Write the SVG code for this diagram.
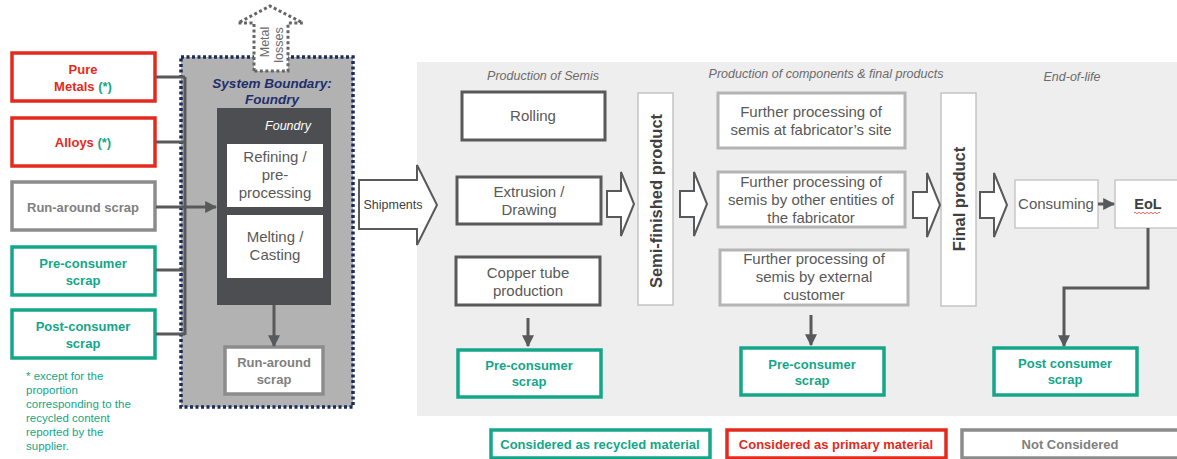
<svg xmlns="http://www.w3.org/2000/svg" width="1177" height="459" viewBox="0 0 1177 459">
<style>
text{font-family:"Liberation Sans",Arial,sans-serif}
.red{fill:#fff;stroke:#e42a1d;stroke-width:3.5}
.grn{fill:#fff;stroke:#14a689;stroke-width:3.5}
.gry{fill:#fff;stroke:#8c8c8c;stroke-width:3.5}
.drk{fill:#fff;stroke:#58595b;stroke-width:3}
.lgt{fill:#fff;stroke:#b4b4b4;stroke-width:3}
.thin{fill:#fff;stroke:#c8c8c8;stroke-width:1.5}
.tr{fill:#e42a1d;font-weight:bold;font-size:13px;text-anchor:middle}
.tg{fill:#14a689;font-weight:bold;font-size:13px;text-anchor:middle}
.tgy{fill:#808080;font-weight:bold;font-size:13px;text-anchor:middle}
.tn{fill:#595959;font-size:15px;text-anchor:middle}
.ti{fill:#6b6b6b;font-size:12.5px;font-style:italic;text-anchor:middle}
.tv{fill:#404040;font-size:16.5px;font-weight:bold;text-anchor:middle}
.ln{fill:none;stroke:#58595b;stroke-width:3}
.harrow{fill:#fff;stroke:#58595b;stroke-width:2}
</style>
<defs>
<marker id="ah" viewBox="0 0 10 10" refX="9" refY="5" markerWidth="4" markerHeight="4" orient="auto" markerUnits="strokeWidth">
<path d="M0,0 L10,5 L0,10 Z" fill="#58595b"/>
</marker>
<path id="ha" d="M0,-13 L14,-13 L14,-32 L27,0 L14,32 L14,13 L0,13 Z"/>
</defs>

<!-- background panel -->
<rect id="panel" x="417" y="62" width="760" height="354" fill="#eeeeee"/>

<!-- system boundary -->
<g id="boundary">
<rect x="181" y="57" width="172" height="350" fill="#b2b2b2" stroke="#1b2b5e" stroke-width="3.5" stroke-dasharray="3 2.5"/>
<text x="272" y="88" fill="#1f2f6b" font-size="13.5" font-weight="bold" font-style="italic" text-anchor="middle">System Boundary:</text>
<text x="272" y="104" fill="#1f2f6b" font-size="13.5" font-weight="bold" font-style="italic" text-anchor="middle">Foundry</text>
</g>

<g id="metal-losses">
<path d="M254,71 L254,23 L238,23 L270,6 L303,23 L288,23 L288,71 Z" fill="#fff" stroke="#666" stroke-width="3" stroke-dasharray="3 2.5"/>
<text transform="translate(269,42) rotate(-90)" fill="#6b6b6b" font-size="12.5" text-anchor="middle">Metal</text>
<text transform="translate(283,45) rotate(-90)" fill="#6b6b6b" font-size="12.5" text-anchor="middle">losses</text>
</g>

<g id="foundry">
<rect x="217" y="108" width="114" height="197" fill="#4d4e52"/>
<text x="288" y="130" fill="#fff" font-size="12.5" font-style="italic" text-anchor="middle">Foundry</text>
</g>
<g id="refining">
<rect x="227" y="144" width="96" height="63" fill="#fff"/>
<text class="tn" x="275" y="162">Refining /</text>
<text class="tn" x="275" y="180">pre-</text>
<text class="tn" x="275" y="198">processing</text>
</g>
<g id="melting">
<rect x="227" y="215" width="96" height="63" fill="#fff"/>
<text class="tn" x="275" y="242">Melting /</text>
<text class="tn" x="275" y="260">Casting</text>
</g>
<g id="runaround2">
<rect class="gry" x="225" y="347" width="98" height="47"/>
<text class="tgy" x="274" y="367">Run-around</text>
<text class="tgy" x="274" y="384">scrap</text>
</g>

<!-- left inputs -->
<g id="pure-metals">
<rect class="red" x="12" y="53" width="143" height="48"/>
<text class="tr" x="83" y="74">Pure</text>
<text class="tr" x="83" y="91">Metals <tspan fill="#14a689">(*)</tspan></text>
</g>
<g id="alloys">
<rect class="red" x="12" y="118" width="143" height="48"/>
<text class="tr" x="83" y="147">Alloys <tspan fill="#14a689">(*)</tspan></text>
</g>
<g id="runaround1">
<rect class="gry" x="12" y="182" width="143" height="48"/>
<text class="tgy" x="83" y="212">Run-around scrap</text>
</g>
<g id="preconsumer1">
<rect class="grn" x="12" y="247" width="143" height="48"/>
<text class="tg" x="83" y="268">Pre-consumer</text>
<text class="tg" x="83" y="285">scrap</text>
</g>
<g id="postconsumer1">
<rect class="grn" x="12" y="310" width="143" height="48"/>
<text class="tg" x="83" y="331">Post-consumer</text>
<text class="tg" x="83" y="348">scrap</text>
</g>
<g id="footnote" fill="#14a689" font-size="11.5">
<text x="26" y="380">* except for the</text>
<text x="26" y="394">proportion</text>
<text x="26" y="408">corresponding to the</text>
<text x="26" y="422">recycled content</text>
<text x="26" y="436">reported by the</text>
<text x="26" y="450">supplier.</text>
</g>

<!-- section titles -->
<text class="ti" x="543" y="80">Production of Semis</text>
<text class="ti" x="826" y="78">Production of components &amp; final products</text>
<text class="ti" x="1072" y="81">End-of-life</text>

<g id="rolling">
<rect class="drk" x="462" y="92" width="143" height="48"/>
<text class="tn" x="533" y="121">Rolling</text>
</g>
<g id="extrusion">
<rect class="drk" x="457" y="177" width="144" height="47"/>
<text class="tn" x="529" y="197">Extrusion /</text>
<text class="tn" x="529" y="215">Drawing</text>
</g>
<g id="copper-tube">
<rect class="drk" x="456" y="257" width="144" height="48"/>
<text class="tn" x="528" y="278">Copper tube</text>
<text class="tn" x="528" y="296">production</text>
</g>
<g id="preconsumer2">
<rect class="grn" x="458" y="350" width="143" height="47"/>
<text class="tg" x="529" y="370">Pre-consumer</text>
<text class="tg" x="529" y="386">scrap</text>
</g>

<g id="semi-finished">
<rect x="638" y="93" width="35" height="212" fill="#fff" stroke="#c4c4c4" stroke-width="1.5"/>
<text class="tv" transform="translate(661.5,201) rotate(-90)">Semi-finished product</text>
</g>

<g id="fp1">
<rect class="lgt" x="718" y="93" width="187" height="55"/>
<text class="tn" x="811" y="117">Further processing of</text>
<text class="tn" x="811" y="135">semis at fabricator’s site</text>
</g>
<g id="fp2">
<rect class="lgt" x="718" y="172" width="187" height="55"/>
<text class="tn" x="811" y="187">Further processing of</text>
<text class="tn" x="811" y="205">semis by other entities of</text>
<text class="tn" x="811" y="223">the fabricator</text>
</g>
<g id="fp3">
<rect class="lgt" x="720" y="250" width="188" height="55"/>
<text class="tn" x="814" y="264">Further processing of</text>
<text class="tn" x="814" y="282">semis by external</text>
<text class="tn" x="814" y="300">customer</text>
</g>
<g id="preconsumer3">
<rect class="grn" x="741" y="348" width="143" height="47"/>
<text class="tg" x="812" y="369">Pre-consumer</text>
<text class="tg" x="812" y="385">scrap</text>
</g>

<g id="final-product">
<rect x="941" y="93" width="35" height="213" fill="#fff" stroke="#c4c4c4" stroke-width="1.5"/>
<text class="tv" transform="translate(964.5,199) rotate(-90)">Final product</text>
</g>

<g id="consuming">
<rect class="thin" x="1015" y="180" width="83" height="48"/>
<text class="tn" x="1056" y="209">Consuming</text>
</g>
<g id="eol">
<rect class="thin" x="1115" y="180" width="70" height="48"/>
<text x="1148" y="209" fill="#404040" font-size="14.5" font-weight="bold" text-anchor="middle">EoL</text>
<path d="M1134,213 q1,-1.5 2,0 t2,0 t2,0 t2,0 t2,0 t2,0 t2,0 t2,0 t2,0 t2,0 t2,0 t2,0 t2,0" fill="none" stroke="#e0403a" stroke-width="0.8"/>
</g>
<g id="postconsumer2">
<rect class="grn" x="994" y="348" width="143" height="47"/>
<text class="tg" x="1065" y="368">Post consumer</text>
<text class="tg" x="1065" y="384">scrap</text>
</g>

<!-- legend -->
<g id="legend-recycled">
<rect class="grn" x="491" y="430" width="219" height="28"/>
<text class="tg" x="600" y="449" font-size="12.5">Considered as recycled material</text>
</g>
<g id="legend-primary">
<rect class="red" x="727" y="430" width="219" height="28"/>
<text class="tr" x="836" y="449" font-size="12.5">Considered as primary material</text>
</g>
<g id="legend-not">
<rect class="gry" x="962" y="430" width="230" height="28"/>
<text class="tgy" x="1070" y="449" font-size="12.5">Not Considered</text>
</g>

<!-- connectors -->
<g id="connectors">
<path class="ln" d="M156,77 H185 M156,142 H185 M156,270 H185 M156,334 H185 M185,77 V335"/>
<path class="ln" d="M156,207 H216" marker-end="url(#ah)"/>
<path class="ln" d="M274,305 V346" marker-end="url(#ah)"/>
<path class="ln" d="M528,318 V346" marker-end="url(#ah)"/>
<path class="ln" d="M811,315 V345" marker-end="url(#ah)"/>
<path class="ln" d="M1148,228 V288 H1064 V346" marker-end="url(#ah)"/>
<path class="ln" d="M1098,204 H1114" marker-end="url(#ah)"/>
<path class="harrow" stroke-width="3" d="M359,180 L417,180 L417,165 L437,205 L417,245 L417,229 L359,229 Z"/>
<text x="393" y="209" fill="#404040" font-size="12.5" text-anchor="middle">Shipments</text>
<use href="#ha" class="harrow" x="607" y="204"/>
<use href="#ha" class="harrow" x="680" y="204"/>
<use href="#ha" class="harrow" x="913" y="205"/>
<use href="#ha" class="harrow" x="980" y="205"/>
</g>
</svg>
